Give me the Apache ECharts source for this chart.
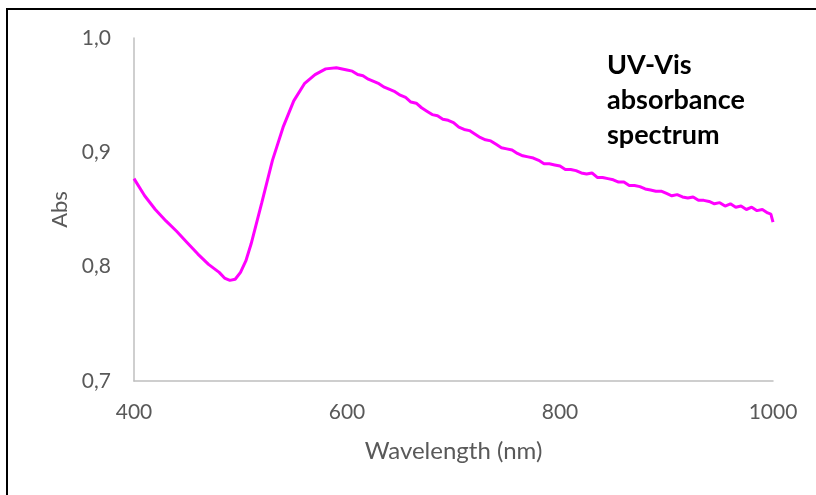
<!DOCTYPE html>
<html>
<head>
<meta charset="utf-8">
<script src="https://cdn.jsdelivr.net/npm/echarts@6/dist/echarts.min.js"></script>
<style>html,body{margin:0;padding:0;background:#fff}#c{width:816px;height:495px}</style>
</head>
<body>
<div id="c"></div>
<script>
const wavelengths = [400,410,420,430,440,450,460,470,480,485,490,495,500,505,510,520,530,540,550,560,570,580,590,
  600,605,610,615,620,625,630,635,640,645,650,655,660,665,670,675,680,685,690,695,700,705,710,715,720,725,730,735,740,745,750,755,760,765,770,775,780,785,790,795,
  800,805,810,815,820,825,830,835,840,845,850,855,860,865,870,875,880,885,890,895,900,905,910,915,920,925,930,935,940,945,950,955,960,965,970,975,980,985,990,995,998,1000];
const absorbance = [0.877,0.862,0.850,0.840,0.831,0.821,0.811,0.802,0.795,0.790,0.788,0.789,0.795,0.805,0.820,0.856,0.893,0.922,0.945,0.960,0.968,0.973,0.974,
  0.972,0.971,0.968,0.967,0.964,0.962,0.960,0.957,0.955,0.953,0.950,0.948,0.944,0.943,0.939,0.936,0.933,0.932,0.929,0.928,0.926,0.922,0.920,0.919,0.916,0.913,0.911,0.910,0.907,0.904,0.903,0.902,0.899,0.897,0.896,0.895,0.893,0.890,0.890,0.889,
  0.888,0.885,0.885,0.884,0.882,0.881,0.882,0.878,0.878,0.877,0.876,0.874,0.874,0.871,0.871,0.870,0.868,0.867,0.866,0.866,0.864,0.862,0.863,0.861,0.860,0.861,0.858,0.858,0.857,0.855,0.856,0.853,0.855,0.852,0.853,0.850,0.852,0.849,0.850,0.847,0.846,0.839];
const yTicks = [0.7, 0.8, 0.9, 1.0];
const xTicks = [400, 600, 800, 1000];
const annotationLines = ['UV-Vis', 'absorbance', 'spectrum'];

const chart = echarts.init(document.getElementById('c'));
const font = 'Lato, "Open Sans", sans-serif';
chart.setOption({
  animation: false,
  backgroundColor: '#fff',
  grid: { left: 134, right: 43, top: 38, bottom: 114 },
  xAxis: {
    type: 'value', min: xTicks[0], max: xTicks[xTicks.length-1], interval: 200,
    axisLine: { show: true, lineStyle: { color: '#BFBFBF', width: 1.5 } },
    axisTick: { show: false }, splitLine: { show: false },
    axisLabel: { color: '#595959', fontSize: 21, fontFamily: font, margin: 21,
      formatter: v => String(v) },
    name: 'Wavelength (nm)', nameLocation: 'middle', nameGap: 58,
    nameTextStyle: { color: '#595959', fontSize: 24, fontFamily: font }
  },
  yAxis: {
    type: 'value', min: yTicks[0], max: yTicks[yTicks.length-1], interval: 0.1,
    axisLine: { show: true, lineStyle: { color: '#BFBFBF', width: 1.5 } },
    axisTick: { show: false }, splitLine: { show: false },
    axisLabel: { color: '#595959', fontSize: 21, fontFamily: font, margin: 23,
      formatter: v => v.toFixed(1).replace('.', ',') },
    name: 'Abs', nameLocation: 'middle', nameGap: 63, nameRotate: 90,
    nameTextStyle: { color: '#595959', fontSize: 22, fontFamily: font }
  },
  series: [{
    type: 'line', showSymbol: false, smooth: false,
    data: wavelengths.map((w, i) => [w, absorbance[i]]),
    lineStyle: { color: '#FF00FF', width: 3 }
  }],
  graphic: [
    { type: 'rect', shape: { x: 7, y: 9, width: 900, height: 600 },
      style: { fill: 'none', stroke: '#000', lineWidth: 2 }, z: 100 },
    { type: 'text', left: 607, top: 48, z: 100,
      style: { text: annotationLines.join('\n'), font: 'bold 27px ' + font, fill: '#000', lineHeight: 35 } }
  ]
});
</script>
</body>
</html>
